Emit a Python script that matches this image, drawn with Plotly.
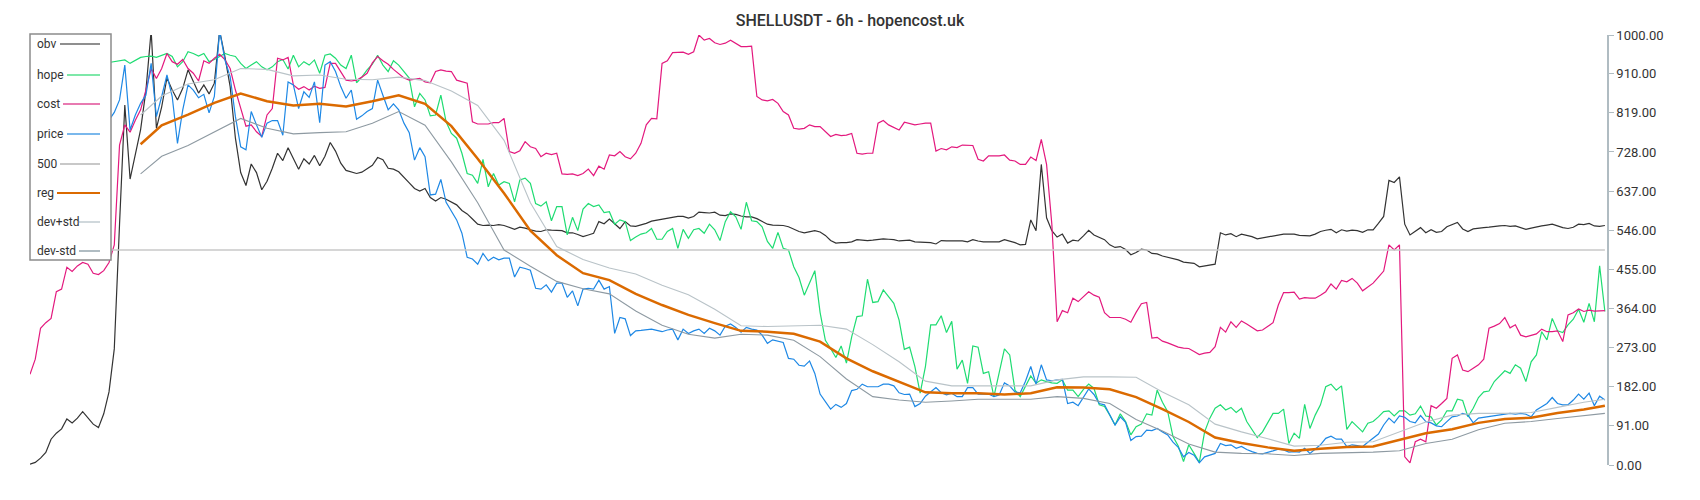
import plotly.graph_objects as go

# ---- data (6h candles, bar index 0..299) ----
N = 300
bars = list(range(N))

obv = [
    2, 6, 16, 29, 60, 74, 84, 107, 98, 109,
    124, 110, 95, 87, 119, 170, 270, 560, 837, 665,
    720, 780, 870, 1010, 783, 833, 900, 872, 849, 876,
    919, 891, 865, 884, 863, 888, 1010, 950, 880, 760,
    680, 650, 700, 680, 640, 660, 690, 725, 708, 738,
    712, 688, 712, 700, 720, 696, 718, 750, 730, 702,
    685, 681, 678, 681, 689, 697, 715, 710, 690, 688,
    682, 670, 656, 643, 637, 643, 622, 614, 622, 618,
    612, 605, 592, 584, 572, 560, 557, 558, 557, 559,
    557, 552, 548, 553, 551, 547, 544, 543, 547, 546,
    546, 545, 540, 540, 536, 531, 535, 539, 566, 561,
    572, 560, 550, 566, 556, 555, 558, 562, 567, 569,
    571, 574, 576, 578, 578, 574, 578, 588, 587, 586,
    588, 581, 580, 584, 583, 579, 577, 577, 573, 566,
    560, 558, 558, 557, 554, 549, 543, 540, 543, 545,
    542, 534, 522, 516, 517, 517, 519, 524, 523, 522,
    523, 525, 526, 525, 524, 521, 522, 523, 519, 518,
    518, 517, 514, 522, 521, 521, 522, 521, 519, 524,
    521, 519, 519, 519, 519, 524, 521, 517, 512, 513,
    570, 545, 699, 575, 545, 530, 537, 516, 523, 521,
    533, 546, 535, 529, 524, 512, 506, 508, 501, 489,
    494, 502, 500, 492, 491, 486, 483, 481, 477, 472,
    471, 469, 461, 463, 465, 467, 540, 535, 538, 531,
    537, 534, 531, 526, 528, 530, 533, 535, 537, 537,
    537, 534, 533, 533, 537, 543, 546, 548, 540, 547,
    544, 546, 545, 541, 547, 547, 562, 578, 662, 657,
    670, 560, 535, 543, 552, 540, 547, 541, 543, 554,
    559, 564, 549, 543, 549, 551, 552, 553, 555, 556,
    557, 555, 556, 552, 548, 551, 554, 556, 558, 560,
    556, 552, 550, 553, 560, 559, 562, 556, 555, 557,
]

cost = [
    211, 246, 318, 331, 341, 403, 409, 460, 450, 463,
    471, 467, 446, 443, 452, 471, 512, 744, 791, 774,
    802, 826, 872, 922, 899, 922, 957, 938, 932, 943,
    922, 911, 893, 940, 934, 946, 955, 943, 922, 872,
    830, 788, 791, 775, 764, 814, 829, 946, 942, 948,
    884, 874, 880, 872, 881, 876, 878, 934, 934, 915,
    895, 893, 895, 902, 911, 935, 950, 940, 932, 920,
    910, 900, 895, 897, 899, 891, 889, 915, 919, 916,
    915, 895, 891, 888, 798, 793, 793, 793, 796, 796,
    806, 729, 725, 731, 752, 740, 736, 717, 725, 722,
    725, 677, 676, 677, 673, 678, 688, 673, 695, 688,
    721, 719, 729, 717, 712, 725, 748, 791, 806, 805,
    934, 940, 959, 960, 960, 955, 961, 1000, 988, 992,
    982, 978, 981, 988, 981, 973, 973, 974, 857, 849,
    847, 850, 841, 822, 814, 783, 781, 783, 791, 787,
    787, 775, 764, 769, 766, 767, 771, 725, 723, 725,
    725, 795, 801, 791, 785, 779, 797, 794, 791, 793,
    795, 795, 730, 736, 733, 740, 738, 744, 743, 743,
    711, 707, 719, 719, 719, 721, 709, 707, 699, 699,
    716, 708, 757, 699, 560, 333, 359, 354, 388, 380,
    392, 403, 395, 390, 354, 343, 343, 343, 339, 332,
    355, 375, 378, 295, 297, 288, 284, 279, 274, 272,
    271, 264, 257, 260, 262, 275, 320, 309, 333, 320,
    335, 328, 320, 312, 314, 322, 331, 372, 401, 401,
    402, 386, 389, 388, 388, 395, 403, 421, 409, 429,
    426, 434, 423, 405, 415, 423, 437, 451, 512, 500,
    512, 19, 5, 54, 60, 54, 138, 132, 143, 155,
    248, 256, 221, 217, 225, 233, 246, 318, 323, 329,
    343, 319, 326, 302, 298, 302, 305, 316, 310, 310,
    312, 287, 349, 354, 363, 357, 360, 358, 358, 359,
]

# hope and price are hidden behind the legend before bar 15
hope_start = 15
hope = [
    936, 938, 940, 942, 934,
    942, 948, 950, 951, 948, 953, 957, 950, 926, 938,
    961, 957, 951, 957, 938, 943, 951, 957, 953, 950,
    934, 922, 930, 938, 926, 919, 926, 938, 943, 921,
    953, 926, 938, 930, 942, 911, 953, 956, 946, 930,
    922, 953, 889, 902, 919, 932, 953, 930, 915, 940,
    930, 915, 900, 833, 864, 849, 812, 814, 860, 798,
    771, 760, 725, 678, 674, 655, 711, 647, 678, 651,
    659, 655, 612, 663, 667, 655, 608, 602, 612, 568,
    601, 601, 535, 576, 545, 595, 608, 601, 605, 587,
    589, 560, 570, 566, 522, 530, 537, 540, 550, 525,
    525, 543, 550, 504, 548, 527, 547, 550, 539, 560,
    547, 522, 566, 589, 577, 548, 611, 568, 566, 554,
    520, 504, 541, 504, 500, 461, 436, 395, 423, 452,
    355, 290, 271, 250, 277, 237, 298, 345, 347, 432,
    378, 380, 407, 391, 376, 337, 269, 274, 229, 167,
    229, 326, 326, 347, 308, 334, 223, 244, 190, 277,
    274, 213, 217, 159, 217, 270, 256, 174, 159, 182,
    207, 190, 198, 194, 191, 190, 198, 174, 174, 159,
    176, 188, 178, 140, 136, 116, 93, 119, 101, 70,
    89, 95, 119, 116, 174, 146, 124, 66, 44, 8,
    47, 27, 6, 77, 109, 132, 140, 128, 134, 122,
    132, 101, 81, 64, 77, 97, 120, 120, 130, 50,
    74, 62, 141, 85, 116, 140, 182, 188, 174, 184,
    83, 101, 89, 77, 97, 101, 112, 124, 126, 114,
    126, 126, 116, 119, 137, 114, 112, 93, 105, 126,
    126, 153, 150, 112, 132, 157, 170, 172, 194, 207,
    219, 213, 233, 225, 194, 240, 256, 310, 291, 341,
    312, 308, 326, 339, 362, 332, 376, 333, 463, 357,
]

price_start = 15
price = [
    802, 820, 849, 930, 779,
    814, 841, 860, 934, 810, 857, 907, 857, 748, 826,
    884, 872, 854, 862, 819, 857, 1010, 942, 903, 810,
    740, 733, 822, 791, 762, 795, 801, 801, 767, 891,
    884, 829, 868, 855, 891, 796, 930, 938, 915, 880,
    853, 872, 804, 812, 822, 829, 895, 860, 826, 840,
    826, 795, 773, 709, 738, 717, 628, 630, 664, 611,
    590, 570, 539, 483, 479, 467, 492, 475, 483, 477,
    481, 481, 437, 460, 457, 453, 411, 409, 419, 402,
    423, 423, 390, 405, 370, 409, 411, 409, 430, 409,
    415, 306, 343, 340, 301, 312, 313, 314, 316, 313,
    310, 314, 316, 291, 316, 306, 312, 316, 306, 318,
    312, 302, 323, 328, 320, 309, 320, 316, 314, 302,
    283, 291, 288, 285, 248, 246, 232, 230, 242, 213,
    165, 147, 130, 141, 134, 143, 173, 176, 188, 182,
    182, 182, 188, 188, 184, 168, 164, 165, 136, 143,
    160, 170, 180, 168, 163, 167, 159, 159, 180, 180,
    165, 165, 165, 159, 163, 191, 184, 170, 168, 195,
    229, 188, 233, 198, 196, 198, 199, 143, 146, 138,
    159, 177, 164, 143, 140, 115, 93, 112, 99, 57,
    66, 67, 81, 80, 85, 77, 70, 53, 41, 19,
    29, 23, 5, 19, 23, 27, 50, 45, 47, 39,
    43, 36, 31, 27, 26, 29, 33, 37, 35, 30,
    31, 30, 39, 27, 36, 47, 62, 67, 60, 60,
    43, 47, 45, 43, 53, 62, 72, 93, 109, 98,
    114, 111, 101, 98, 115, 101, 98, 91, 89, 101,
    112, 114, 120, 116, 98, 109, 111, 112, 115, 116,
    119, 120, 118, 120, 118, 112, 128, 136, 143, 157,
    143, 140, 140, 151, 165, 153, 167, 138, 160, 151,
]

# regression line and its bands, read every 5 bars
band_bars = [21] + list(range(25, 300, 5)) + [299]
reg = [
    746, 790, 815, 842, 864, 846, 836, 840, 834, 846,
    860, 840, 788, 712, 632, 545, 488, 446, 430, 398,
    372, 349, 330, 312, 310, 305, 287, 248, 218, 194,
    169, 167, 167, 164, 167, 181, 180, 176, 158, 130,
    100, 64, 51, 41, 33, 38, 42, 43, 58, 74,
    83, 98, 107, 110, 121, 129, 138,
]
dev_plus = [
    814, 858, 886, 896, 922, 920, 905, 907, 897, 896,
    902, 894, 870, 836, 755, 610, 508, 478, 458, 444,
    418, 396, 362, 324, 322, 324, 325, 316, 280, 240,
    195, 184, 184, 183, 184, 198, 205, 205, 204, 170,
    140, 95, 77, 61, 44, 46, 53, 54, 77, 100,
    116, 120, 120, 122, 134, 146, 153,
]
dev_minus = [
    677, 718, 743, 775, 806, 783, 770, 773, 775, 795,
    822, 790, 705, 610, 500, 462, 427, 410, 398, 358,
    325, 304, 295, 304, 302, 290, 252, 200, 159, 151,
    146, 149, 153, 153, 153, 159, 155, 143, 106, 79,
    49, 30, 27, 26, 22, 27, 28, 30, 33, 50,
    60, 82, 97, 101, 108, 115, 120,
]

level = 500
y_ticks = [0, 91, 182, 273, 364, 455, 546, 637, 728, 819, 910, 1000]

colors = {
    "obv": "#333333",
    "hope": "#1fdc72",
    "cost": "#e3197e",
    "price": "#1e88e5",
    "500": "#c8c8c8",
    "reg": "#db6a00",
    "dev+std": "#b9c3c8",
    "dev-std": "#8e9aa2",
}

fig = go.Figure()


def add_line(name, x, y, width=1.2):
    fig.add_trace(go.Scatter(
        x=x, y=y, mode="lines", name=name,
        line=dict(color=colors[name], width=width),
        hoverinfo="skip",
    ))


add_line("obv", bars, obv)
add_line("hope", bars[hope_start:hope_start + len(hope)], hope)
add_line("cost", bars, cost)
add_line("price", bars[price_start:price_start + len(price)], price)
add_line("500", [bars[0], bars[-1]], [level, level], width=1.5)
add_line("reg", band_bars, reg, width=2.5)
add_line("dev+std", band_bars, dev_plus, width=1.1)
add_line("dev-std", band_bars, dev_minus, width=1.1)

# ---- layout ----
# the page body has an 8px margin, so the figure is 16px smaller than the window
PAD = 8
W, H = 1700 - 2 * PAD, 500 - 2 * PAD
# plot area in window pixels: x 30..1607, y 35..465
PL, PR, PT, PB = 30, 1607, 35, 465
pw, ph = PR - PL, PB - PT


def px_x(px):
    return (px - PL) / pw


def px_y(py):
    return (PB - py) / ph


# hand-drawn legend box (label left, swatch right), drawn over the lines
legend_rows = [
    ("obv", 44, 60, "#8f8f8f"),
    ("hope", 75, 67, "#7ee8a9"),
    ("cost", 104, 63, "#e87ab1"),
    ("price", 134, 67, "#7ab8ec"),
    ("500", 164, 60, "#c8c8c8"),
    ("reg", 193, 57, "#db6a00"),
    ("dev+std", 222, 79, "#d0d8dc"),
    ("dev-std", 251, 79, "#b0bcc2"),
]

shapes = [dict(
    type="rect", xref="paper", yref="paper",
    x0=px_x(30), x1=px_x(111), y0=px_y(260), y1=px_y(34),
    fillcolor="white", line=dict(color="#8c8c8c", width=1.5), layer="above",
)]
annotations = []
for label, row_y, sx, sc in legend_rows:
    shapes.append(dict(
        type="line", xref="paper", yref="paper",
        x0=px_x(sx), x1=px_x(100), y0=px_y(row_y), y1=px_y(row_y),
        line=dict(color=sc, width=2), layer="above",
    ))
    annotations.append(dict(
        text=label, xref="paper", yref="paper",
        x=px_x(35), y=px_y(row_y), xanchor="left", yanchor="middle",
        showarrow=False, font=dict(family="Roboto", size=12, color="#333333"),
    ))

fig.update_layout(
    width=W, height=H,
    margin=dict(l=PL - PAD, r=W - (PR - PAD), t=PT - PAD, b=H - (PB - PAD)),
    paper_bgcolor="white", plot_bgcolor="white",
    showlegend=False,
    title=dict(
        text="SHELLUSDT - 6h - hopencost.uk",
        x=0.5, xanchor="center", y=1 - (20 - PAD) / H, yanchor="middle",
        font=dict(family="Roboto", size=16, color="#333333", weight=500),
    ),
    xaxis=dict(visible=False, range=[0, N - 0.6]),
    yaxis=dict(
        side="right", range=[0, 1000],
        tickvals=y_ticks, ticktext=[f"{v:.2f}" for v in y_ticks],
        showgrid=False, zeroline=False,
        showline=True, linecolor="#b0bcc2", linewidth=1.5,
        ticks="outside", ticklen=5, tickcolor="#b0bcc2",
        tickfont=dict(family="Roboto", size=13, color="#333333"),
    ),
    shapes=shapes,
    annotations=annotations,
)

fig.write_html("out.html")
